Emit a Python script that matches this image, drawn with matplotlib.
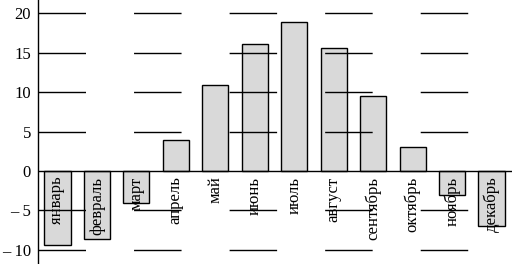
import matplotlib
matplotlib.use("Agg")
import matplotlib.pyplot as plt
from matplotlib.ticker import FuncFormatter

months = ["январь", "февраль", "март", "апрель", "май", "июнь",
          "июль", "август", "сентябрь", "октябрь", "ноябрь", "декабрь"]
temps = [-9.4, -8.6, -4.0, 3.9, 10.9, 16.1, 18.9, 15.6, 9.5, 3.0, -3.1, -7.0]
yticks = [-10, -5, 0, 5, 10, 15, 20]

plt.rcParams["font.family"] = ["Liberation Serif", "DejaVu Serif"]

fig = plt.figure(figsize=(5.12, 2.64), dpi=100)
ax = fig.add_axes([38 / 512, 0, 474 / 512, 1])

x = list(range(len(months)))
ax.bar(x, temps, width=0.66, color="#d9d9d9", edgecolor="black", linewidth=1, zorder=1)

ax.set_xlim(-0.494, 11.52)
ax.set_ylim(-11.79, 21.69)

ax.set_yticks(yticks)
ax.yaxis.set_major_formatter(FuncFormatter(lambda v, p: ("– %d" % -v) if v < 0 else "%d" % v))
ax.tick_params(axis="y", length=0, pad=5, labelsize=12)
ax.set_xticks([])

for s in ["top", "right", "bottom"]:
    ax.spines[s].set_visible(False)
ax.spines["left"].set_linewidth(1)

# dashed grid drawn over the bars
for v in yticks:
    if v == 0:
        continue
    ax.axhline(v, color="black", linewidth=1, linestyle=(0, (34.2, 34.6)), zorder=3)
ax.axhline(0, color="black", linewidth=1, zorder=3)

for i, name in enumerate(months):
    ax.annotate(name, xy=(i, 0), xytext=(0, -4), textcoords="offset points",
                rotation=90, ha="center", va="top", fontsize=12, zorder=4)

fig.savefig("out.png", dpi=100)
